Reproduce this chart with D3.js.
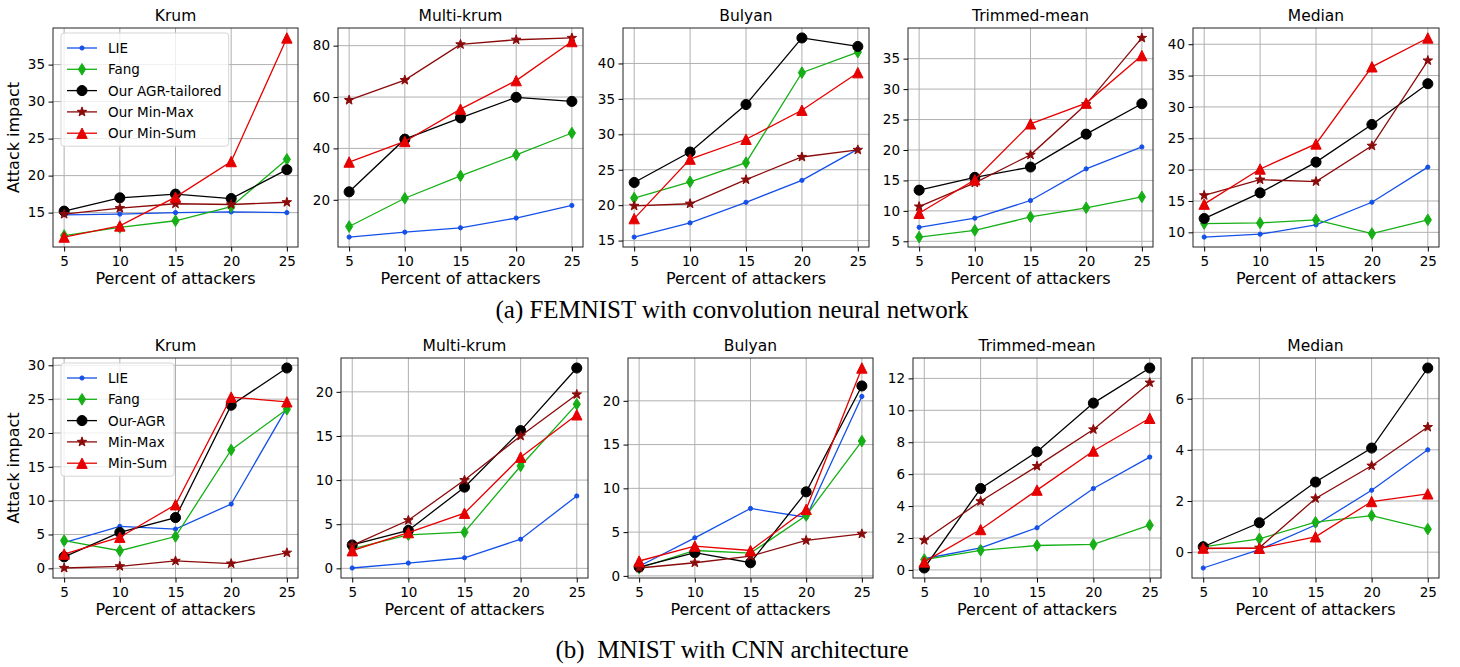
<!DOCTYPE html>
<html>
<head>
<meta charset="utf-8">
<script src="https://cdn.jsdelivr.net/npm/d3@7"></script>
<style>
  body { margin: 0; background: #fff; }
  svg text { font-family: "DejaVu Sans", sans-serif; fill: #000; }
  svg text.caption { font-family: "Liberation Serif", "Times New Roman", serif; white-space: pre; }
</style>
</head>
<body>
<div id="chart"></div>
<script>
// x values shared by every panel
var percents = [5, 10, 15, 20, 25];
var aggregators = ["Krum", "Multi-krum", "Bulyan", "Trimmed-mean", "Median"];
var femnistNames = ["LIE", "Fang", "Our AGR-tailored", "Our Min-Max", "Our Min-Sum"];
var mnistNames = ["LIE", "Fang", "Our-AGR", "Min-Max", "Min-Sum"];

// attack impact per panel, series order: LIE, Fang, AGR, Min-Max, Min-Sum
var femnistKrum = [
  [14.7, 14.8, 15.0, 15.1, 15.0],
  [11.9, 13.0, 13.9, 15.8, 22.2],
  [15.2, 17.0, 17.5, 16.9, 20.8],
  [14.8, 15.6, 16.2, 16.1, 16.4],
  [11.7, 13.2, 17.1, 21.9, 38.6]
];
var femnistMultiKrum = [
  [5.5, 7.4, 9.1, 12.9, 17.8],
  [9.6, 20.6, 29.3, 37.5, 46.0],
  [23.1, 43.6, 51.9, 59.9, 58.3],
  [58.8, 66.6, 80.5, 82.3, 83.0],
  [34.7, 42.7, 55.3, 66.4, 81.6]
];
var femnistBulyan = [
  [15.5, 17.5, 20.4, 23.5, 27.9],
  [21.0, 23.3, 26.0, 38.7, 41.6],
  [23.2, 27.5, 34.2, 43.6, 42.4],
  [19.9, 20.2, 23.6, 26.8, 27.8],
  [18.1, 26.5, 29.3, 33.4, 38.7]
];
var femnistTrimmed = [
  [7.3, 8.8, 11.7, 16.9, 20.5],
  [5.7, 6.8, 9.0, 10.5, 12.3],
  [13.4, 15.5, 17.2, 22.6, 27.6],
  [10.7, 14.6, 19.2, 27.5, 38.4],
  [9.6, 15.1, 24.3, 27.7, 35.5]
];
var femnistMedian = [
  [9.25, 9.7, 11.2, 14.8, 20.4],
  [11.4, 11.5, 12.0, 9.8, 12.0],
  [12.2, 16.3, 21.2, 27.2, 33.7],
  [15.9, 18.4, 18.1, 23.8, 37.4],
  [14.5, 20.1, 24.1, 36.4, 41.0]
];

var mnistKrum = [
  [3.8, 6.2, 5.8, 9.5, 23.7],
  [4.1, 2.6, 4.7, 17.5, 23.5],
  [1.7, 5.3, 7.5, 24.1, 29.6],
  [0.05, 0.3, 1.1, 0.7, 2.3],
  [2.1, 4.6, 9.4, 25.3, 24.6]
];
var mnistMultiKrum = [
  [0.04, 0.6, 1.2, 3.3, 8.2],
  [2.2, 3.8, 4.1, 11.6, 18.6],
  [2.65, 4.3, 9.2, 15.6, 22.7],
  [2.6, 5.45, 10.0, 15.0, 19.7],
  [2.0, 4.05, 6.25, 12.6, 17.4]
];
var mnistBulyan = [
  [1.1, 4.35, 7.7, 6.7, 20.5],
  [0.9, 2.9, 2.6, 6.9, 15.4],
  [1.0, 2.65, 1.5, 9.6, 21.7],
  [0.9, 1.5, 2.25, 4.05, 4.8],
  [1.7, 3.4, 2.9, 7.6, 23.75]
];
var mnistTrimmed = [
  [0.7, 1.38, 2.64, 5.1, 7.07],
  [0.65, 1.23, 1.53, 1.6, 2.8],
  [0.12, 5.1, 7.4, 10.45, 12.65],
  [1.86, 4.3, 6.5, 8.8, 11.73],
  [0.5, 2.53, 5.0, 7.45, 9.5]
];
var mnistMedian = [
  [-0.62, 0.1, 1.06, 2.42, 4.0],
  [0.21, 0.52, 1.17, 1.43, 0.9],
  [0.21, 1.15, 2.74, 4.07, 7.2],
  [0.14, 0.17, 2.1, 3.38, 4.89],
  [0.16, 0.15, 0.6, 1.98, 2.28]
];

// y tick labels per panel
var femnistTicks = [
  [15, 20, 25, 30, 35],
  [20, 40, 60, 80],
  [15, 20, 25, 30, 35, 40],
  [5, 10, 15, 20, 25, 30, 35],
  [10, 15, 20, 25, 30, 35, 40]
];
var mnistTicks = [
  [0, 5, 10, 15, 20, 25, 30],
  [0, 5, 10, 15, 20],
  [0, 5, 10, 15, 20],
  [0, 2, 4, 6, 8, 10, 12],
  [0, 2, 4, 6]
];

// look of each series (same order as the data rows)
var seriesStyle = [
  { color: "#1450e8", marker: "dot" },
  { color: "#16b016", marker: "diamond" },
  { color: "#000000", marker: "circle" },
  { color: "#8b0a0a", marker: "star" },
  { color: "#e60000", marker: "triangle" }
];

// panel boxes for the two figure rows
var rows = [
  {
    data: [femnistKrum, femnistMultiKrum, femnistBulyan, femnistTrimmed, femnistMedian],
    ticks: femnistTicks, names: femnistNames,
    top: 28, bottom: 247,
    lefts: [53, 338, 623, 908, 1193], rights: [298, 583, 869, 1153, 1439],
    caption: "(a) FEMNIST with convolution neural network", captionY: 318, captionWidth: 473
  },
  {
    data: [mnistKrum, mnistMultiKrum, mnistBulyan, mnistTrimmed, mnistMedian],
    ticks: mnistTicks, names: mnistNames,
    top: 358, bottom: 578,
    lefts: [53, 341, 628, 913, 1192], rights: [298, 588, 873, 1161, 1439],
    caption: "(b)  MNIST with CNN architecture", captionY: 658, captionWidth: 353
  }
];

var svg = d3.select("#chart").append("svg")
  .attr("width", 1460)
  .attr("height", 667);

// marker shapes centred on 0,0
function markerPath(type) {
  if (type === "dot") return d3.symbol(d3.symbolCircle, 14)();
  if (type === "circle") return d3.symbol(d3.symbolCircle, 80)();
  if (type === "diamond") return "M0,-5.8L3.6,0L0,5.8L-3.6,0Z";
  if (type === "triangle") return "M0,-5.2L5.2,5.2L-5.2,5.2Z";
  if (type === "star") {
    var pts = [];
    for (var i = 0; i < 10; i++) {
      var r = i % 2 === 0 ? 5 : 2;
      var a = -Math.PI / 2 + i * Math.PI / 5;
      pts.push([r * Math.cos(a), r * Math.sin(a)]);
    }
    return "M" + pts.join("L") + "Z";
  }
}

function drawPanel(row, p) {
  var values = row.data[p];
  var left = row.lefts[p], right = row.rights[p];

  var x = d3.scaleLinear().domain([4, 26]).range([left, right]);

  // matplotlib style 5% margin round the data
  var ext = d3.extent(d3.merge(values));
  var pad = (ext[1] - ext[0]) * 0.05;
  var y = d3.scaleLinear().domain([ext[0] - pad, ext[1] + pad]).range([row.bottom, row.top]);

  var g = svg.append("g");

  // grid
  g.selectAll(".gx").data(percents).enter().append("line")
    .attr("x1", function(d) { return x(d); }).attr("x2", function(d) { return x(d); })
    .attr("y1", row.top).attr("y2", row.bottom)
    .attr("stroke", "#b0b0b0").attr("stroke-width", 1);
  g.selectAll(".gy").data(row.ticks[p]).enter().append("line")
    .attr("x1", left).attr("x2", right)
    .attr("y1", function(d) { return y(d); }).attr("y2", function(d) { return y(d); })
    .attr("stroke", "#b0b0b0").attr("stroke-width", 1);

  var line = d3.line()
    .x(function(d, i) { return x(percents[i]); })
    .y(function(d) { return y(d); });

  values.forEach(function(s, k) {
    var st = seriesStyle[k];
    g.append("path")
      .attr("d", line(s))
      .attr("fill", "none")
      .attr("stroke", st.color)
      .attr("stroke-width", 1.3);
    g.selectAll(".m" + k).data(s).enter().append("path")
      .attr("d", markerPath(st.marker))
      .attr("transform", function(d, i) { return "translate(" + x(percents[i]) + "," + y(d) + ")"; })
      .attr("fill", st.color)
      .attr("stroke", st.color)
      .attr("stroke-width", 1);
  });

  // frame
  g.append("rect")
    .attr("x", left).attr("y", row.top)
    .attr("width", right - left).attr("height", row.bottom - row.top)
    .attr("fill", "none").attr("stroke", "#222").attr("stroke-width", 1);

  // axes
  var xa = g.append("g")
    .attr("transform", "translate(0," + row.bottom + ")")
    .call(d3.axisBottom(x).tickValues(percents).tickSize(4.5).tickPadding(5));
  var ya = g.append("g")
    .attr("transform", "translate(" + left + ",0)")
    .call(d3.axisLeft(y).tickValues(row.ticks[p]).tickSize(4.5).tickPadding(3.5));
  [xa, ya].forEach(function(a) {
    a.select(".domain").remove();
    a.selectAll(".tick line").attr("stroke", "#000");
    a.selectAll(".tick text").style("font-size", "13.5px").style("font-family", "DejaVu Sans");
  });

  // title and x label
  g.append("text")
    .attr("x", (left + right) / 2).attr("y", row.top - 7)
    .attr("text-anchor", "middle")
    .style("font-size", "15.5px")
    .text(aggregators[p]);
  g.append("text")
    .attr("x", (left + right) / 2).attr("y", row.bottom + 37)
    .attr("text-anchor", "middle")
    .style("font-size", "16px")
    .text("Percent of attackers");

  if (p === 0) {
    g.append("text")
      .attr("transform", "translate(19," + (row.top + row.bottom) / 2 + ") rotate(-90)")
      .attr("text-anchor", "middle")
      .style("font-size", "16px")
      .text("Attack impact");
    drawLegend(g, row, left);
  }
}

function drawLegend(g, row, left) {
  var bx = left + 8, by = row.top + 5, step = 21.3;
  var lg = g.append("g");
  var box = lg.append("rect")
    .attr("x", bx).attr("y", by)
    .attr("rx", 3).attr("ry", 3)
    .attr("fill", "#fff").attr("fill-opacity", 0.8)
    .attr("stroke", "#d5d5d5").attr("stroke-width", 1);
  var maxW = 0;
  row.names.forEach(function(name, k) {
    var st = seriesStyle[k];
    var cy = by + 15 + k * step;
    lg.append("line")
      .attr("x1", bx + 6).attr("x2", bx + 36)
      .attr("y1", cy).attr("y2", cy)
      .attr("stroke", st.color).attr("stroke-width", 1.3);
    lg.append("path")
      .attr("d", markerPath(st.marker))
      .attr("transform", "translate(" + (bx + 21) + "," + cy + ")")
      .attr("fill", st.color).attr("stroke", st.color).attr("stroke-width", 1);
    var t = lg.append("text")
      .attr("x", bx + 47).attr("y", cy + 5)
      .style("font-size", "13.5px")
      .text(name);
    maxW = Math.max(maxW, t.node().getComputedTextLength());
  });
  box.attr("width", 47 + maxW + 7).attr("height", 15 + 4 * step + 13);
}

rows.forEach(function(row) {
  for (var p = 0; p < 5; p++) drawPanel(row, p);
  svg.append("text")
    .attr("class", "caption")
    .attr("x", 732).attr("y", row.captionY)
    .attr("text-anchor", "middle")
    .attr("textLength", row.captionWidth)
    .attr("lengthAdjust", "spacingAndGlyphs")
    .style("font-size", "25px")
    .text(row.caption);
});
</script>
</body>
</html>
